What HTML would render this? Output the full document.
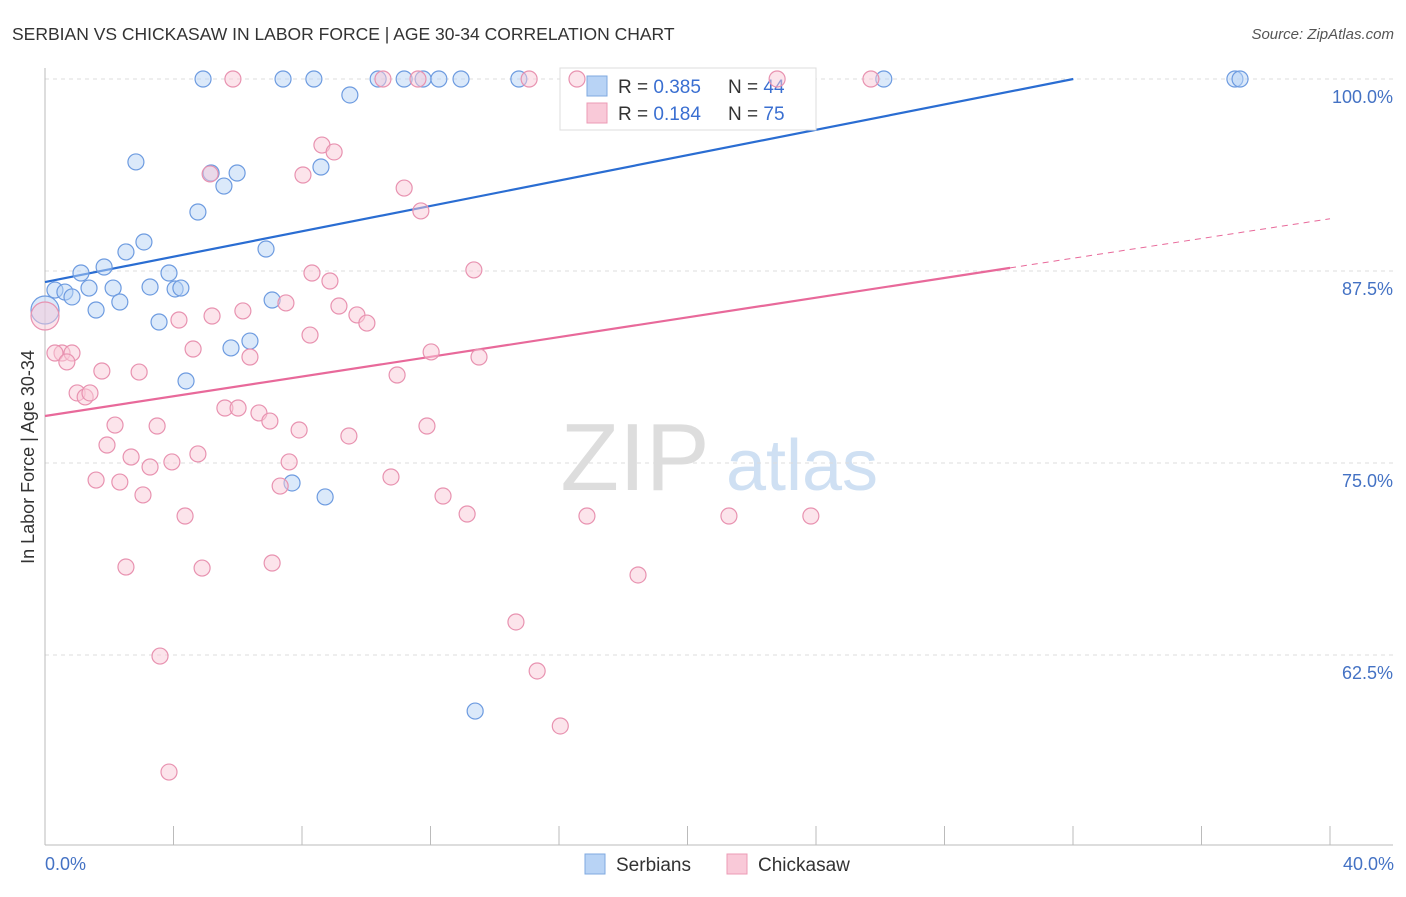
<!DOCTYPE html>
<html><head><meta charset="utf-8">
<style>
body{margin:0;background:#fff;font-family:"Liberation Sans",sans-serif;}
svg text{font-family:"Liberation Sans",sans-serif;}
</style></head>
<body>
<svg id="chart" width="1406" height="892" xmlns="http://www.w3.org/2000/svg">
<text x="12" y="40" font-size="17.5" fill="#333">SERBIAN VS CHICKASAW IN LABOR FORCE | AGE 30-34 CORRELATION CHART</text>
<text x="1394" y="39" font-size="15" fill="#555" font-style="italic" text-anchor="end">Source: ZipAtlas.com</text>
<g>
<text x="635" y="490" font-size="96" fill="#ddd" font-family="Liberation Serif" text-anchor="middle">ZIP</text>
<text x="802" y="490" font-size="72" fill="#cfe0f3" text-anchor="middle">atlas</text>
</g>
<g id="grid"></g>
<g id="axes"></g>
<g id="lines"></g>
<g>
<rect x="560" y="68" width="256" height="62" fill="#fff" stroke="#ddd"/>
<rect x="587" y="76" width="20" height="20" fill="#b8d3f5" stroke="#7fa9e0"/>
<rect x="587" y="103" width="20" height="20" fill="#f9c9d8" stroke="#ec9bb6"/>
<text x="618" y="93" font-size="19" fill="#333">R = <tspan fill="#3a6fd1">0.385</tspan></text>
<text x="728" y="93" font-size="19" fill="#333">N = <tspan fill="#3a6fd1">44</tspan></text>
<text x="618" y="120" font-size="19" fill="#333">R = <tspan fill="#3a6fd1">0.184</tspan></text>
<text x="728" y="120" font-size="19" fill="#333">N = <tspan fill="#3a6fd1">75</tspan></text>
</g>
<g id="points"></g>
<text transform="translate(34,457) rotate(-90)" font-size="18" fill="#333" text-anchor="middle">In Labor Force | Age 30-34</text>
<text x="45" y="870" font-size="18" fill="#4472c4">0.0%</text>
<text x="1394" y="870" font-size="18" fill="#4472c4" text-anchor="end">40.0%</text>
<g>
<rect x="585" y="854" width="20" height="20" fill="#b8d3f5" stroke="#7fa9e0"/>
<text x="616" y="871" font-size="19" fill="#333">Serbians</text>
<rect x="727" y="854" width="20" height="20" fill="#f9c9d8" stroke="#ec9bb6"/>
<text x="758" y="871" font-size="19" fill="#333">Chickasaw</text>
</g>
</svg>
<script>
const yTicks=[100,87.5,75,62.5];
const yTickLabels=["100.0%","87.5%","75.0%","62.5%"];
const xTicks=[0,4,8,12,16,20,24,28,32,36,40];
const serbX=[4.92,7.41,8.37,10.37,11.18,11.77,12.26,12.95,14.75,26.11,37.04,37.2,9.49,2.83,5.17,5.98,5.57,8.59,4.76,3.08,2.52,6.88,1.84,1.12,3.86,0.31,0.62,0.84,1.37,2.12,3.27,4.05,4.23,2.33,1.59,7.07,3.55,6.38,5.79,4.39,7.69,8.72,13.39,0.0];
const serbY=[100,100,100,100,100,100,100,100,100,100,100,100,98.96,94.6,93.88,93.88,93.03,94.27,91.34,89.39,88.74,88.93,87.76,87.37,87.37,86.26,86.13,85.81,86.39,86.39,86.46,86.33,86.39,85.48,84.96,85.61,84.18,82.94,82.49,80.34,73.7,72.79,58.85,84.96];
const chickX=[5.85,10.52,11.61,15.07,16.56,22.79,25.71,8.62,9.0,5.14,8.03,11.18,11.7,13.35,8.31,8.87,7.5,9.15,6.16,5.2,4.17,9.71,10.02,8.25,4.61,6.38,12.02,13.51,0.53,0.84,0.31,0.68,2.93,1.77,10.96,1.0,1.25,1.4,5.6,6.01,6.66,7.0,2.18,3.49,7.91,11.89,9.46,1.93,2.68,4.76,3.27,3.95,7.6,1.59,2.33,3.05,10.77,7.32,12.39,13.14,4.36,16.87,21.29,23.84,2.52,4.89,7.07,18.46,14.66,3.58,15.32,16.04,3.86,0.0];
const chickY=[100,100,100,100,100,100,100,95.7,95.25,93.82,93.75,92.9,91.41,87.57,87.37,86.85,85.42,85.22,84.9,84.57,84.31,84.64,84.11,83.33,82.42,81.9,82.23,81.9,82.16,82.16,82.16,81.58,80.92,80.99,80.73,79.56,79.3,79.56,78.58,78.58,78.26,77.73,77.47,77.41,77.15,77.41,76.76,76.17,75.39,75.59,74.74,75.07,75.07,73.89,73.76,72.92,74.09,73.5,72.85,71.68,71.55,71.55,71.55,71.55,68.23,68.16,68.49,67.71,64.65,62.43,61.46,57.88,54.88,84.57];
const serbTrend=[86.78,0.413];
const chickTrend=[78.06,0.321];
const NS="http://www.w3.org/2000/svg";
const X=v=>45+v*32.125, Y=v=>79+(100-v)*15.36;
function mk(t,a,p){const e=document.createElementNS(NS,t);for(const k in a)e.setAttribute(k,a[k]);p.appendChild(e);return e;}
const grid=document.getElementById('grid'),axes=document.getElementById('axes'),lines=document.getElementById('lines'),pts=document.getElementById('points');
yTicks.forEach((t,i)=>{
 const l=mk('line',{x1:45,x2:1393,y1:Y(t),y2:Y(t),stroke:'#ddd','stroke-dasharray':'4,4'},grid);
 
 
 const tx=mk('text',{x:1393,y:Y(t)+24,'font-size':18,fill:'#4472c4','text-anchor':'end'},grid);
 tx.textContent=yTickLabels[i];
 
 
});
const xa=mk('line',{x1:45,x2:1393,y1:845,y2:845,stroke:'#bbb'},axes);


const ya=mk('line',{x1:45,x2:45,y1:68,y2:845,stroke:'#bbb'},axes);


xTicks.forEach(t=>{
 const l=mk('line',{x1:X(t),x2:X(t),y1:826,y2:845,stroke:'#bbb'},axes);
 
 
});
function dots(xs,ys,fill,stroke,name){
 xs.forEach((x,i)=>{
  const big=(x===0);
  const c=mk('circle',{cx:X(x),cy:Y(ys[i]),r:big?14:8,fill:fill,'fill-opacity':0.5,stroke:stroke,'stroke-width':1.2},pts);
  
  
 });
}
dots(serbX,serbY,'#b8d3f5','#6d9be0','serbian-point');
dots(chickX,chickY,'#f9c9d8','#e892b0','chickasaw-point');
const sEnd=(100-serbTrend[0])/serbTrend[1];
const bl=mk('line',{x1:X(0),y1:Y(serbTrend[0]),x2:X(sEnd),y2:Y(100),stroke:'#2a6dd2','stroke-width':2.2},lines);


const cSolid=30.04;
const pl=mk('line',{x1:X(0),y1:Y(chickTrend[0]),x2:X(cSolid),y2:Y(chickTrend[0]+chickTrend[1]*cSolid),stroke:'#e8699a','stroke-width':2.2},lines);


const pd=mk('line',{x1:X(cSolid),y1:Y(chickTrend[0]+chickTrend[1]*cSolid),x2:X(40),y2:Y(chickTrend[0]+chickTrend[1]*40),stroke:'#e8699a','stroke-width':1,'stroke-dasharray':'6,5'},lines);


</script>
</body></html>
